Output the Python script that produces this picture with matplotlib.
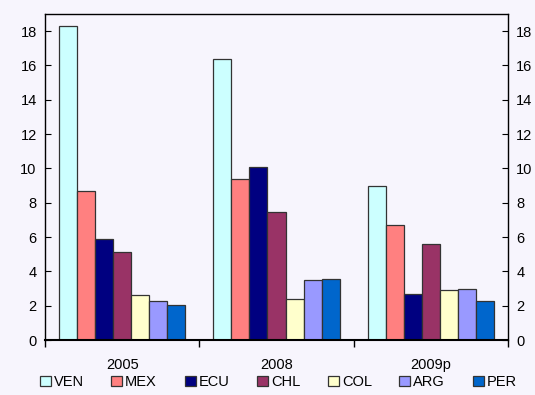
import numpy as np
import matplotlib
matplotlib.use('Agg')
from matplotlib import pyplot as plt

plt.rcParams['font.family'] = ['Liberation Sans', 'DejaVu Sans']

years = ['2005', '2008', '2009p']
countries = ['VEN', 'MEX', 'ECU', 'CHL', 'COL', 'ARG', 'PER']
ven = [18.3, 16.4, 9.0]
mex = [8.7, 9.4, 6.7]
ecu = [5.9, 10.1, 2.7]
chl = [5.1, 7.45, 5.6]
col = [2.6, 2.4, 2.9]
arg = [2.3, 3.5, 3.0]
per = [2.05, 3.55, 2.3]
colors = ['#CCFFFF', '#FF8080', '#000080', '#993366', '#FFFFCC', '#9999FF', '#0066CC']

series = [ven, mex, ecu, chl, col, arg, per]
bg = '#F7F5FD'

fig = plt.figure(figsize=(5.35, 3.95), dpi=100, facecolor=bg)
ax = fig.add_axes([45/535, 55/395, 463/535, 326/395], facecolor=bg)

x = np.arange(len(years))
w = 0.117
for i, (name, vals) in enumerate(zip(countries, series)):
    ax.bar(x + (i - 3) * w, vals, width=w, color=colors[i], edgecolor='#333333',
           linewidth=0.9, label=name)

ax.set_xlim(-0.5, 2.5)
ax.set_ylim(0, 19)
ax.set_yticks(range(0, 20, 2))
ax.set_xticks(x)
ax.set_xticklabels(years)
ax.set_xticks([-0.5, 0.5, 1.5, 2.5], minor=True)
ax.tick_params(axis='x', which='major', length=0, pad=13, labelsize=10.5)
ax.tick_params(axis='x', which='minor', length=5, width=1, direction='out')
ax.tick_params(axis='y', direction='in', length=4, labelsize=10.5, right=True,
               labelright=True, pad=6)
for s in ax.spines.values():
    s.set_linewidth(1)
ax.spines['bottom'].set_linewidth(1.5)

fig.legend(loc='center', bbox_to_anchor=(0.52, 1 - 382/395), ncol=7, frameon=False,
           fontsize=10.5, handlelength=0.75, handleheight=0.75, handletextpad=0.2,
           columnspacing=1.9, borderaxespad=0)

fig.savefig('out.png', dpi=100, facecolor=bg)
